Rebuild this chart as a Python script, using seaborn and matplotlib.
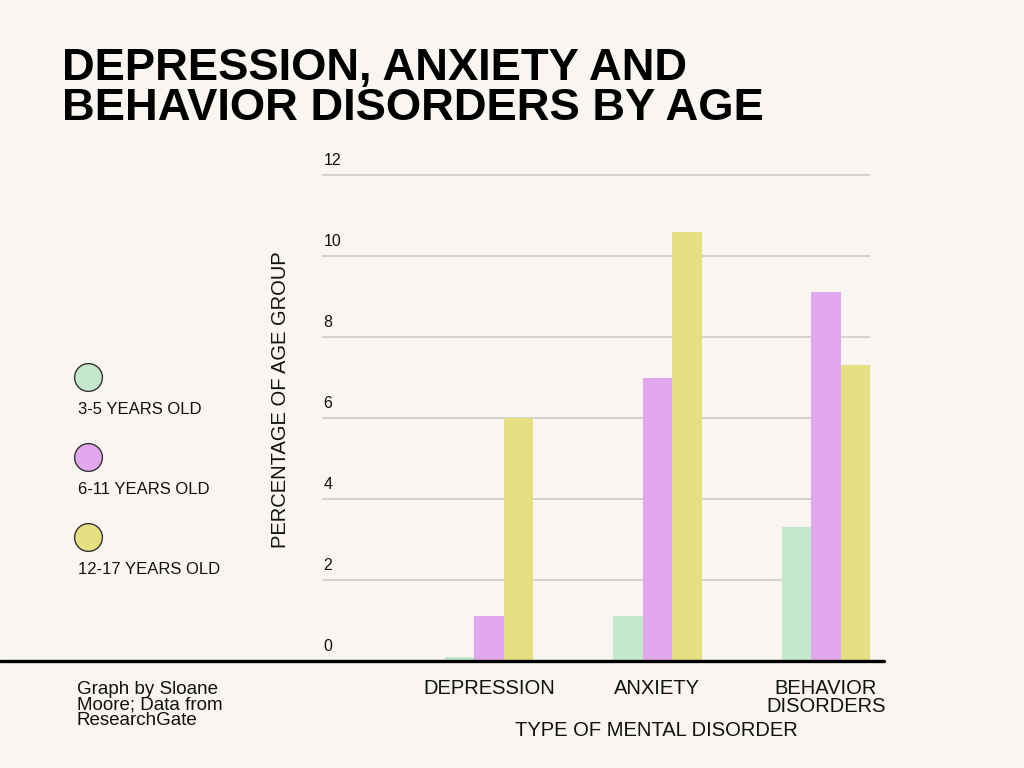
import pandas as pd
import numpy as np
import matplotlib
matplotlib.use('Agg')
import matplotlib.pyplot as plt
import seaborn as sns

# data (percent of age group)
disorders = ['DEPRESSION', 'ANXIETY', 'BEHAVIOR\nDISORDERS']
age_groups = ['3-5 YEARS OLD', '6-11 YEARS OLD', '12-17 YEARS OLD']
age_3_5 = [0.1, 1.1, 3.3]
age_6_11 = [1.1, 7.0, 9.1]
age_12_17 = [6.0, 10.6, 7.3]
y_ticks = [0, 2, 4, 6, 8, 10, 12]

colors = ['#C5E8CC', '#E2A8EE', '#E6DF82']
bg = '#F9F6F1'

data = pd.DataFrame({
    'Disorder': disorders * 3,
    'Age': [a for a in age_groups for _ in disorders],
    'Percent': age_3_5 + age_6_11 + age_12_17,
})

sns.set_theme(style='white')
plt.rcParams['font.family'] = ['Liberation Sans', 'DejaVu Sans']

fig = plt.figure(figsize=(10.24, 7.68), dpi=100, facecolor=bg)

# overlay in pixel coords for the free text and legend
lax = fig.add_axes([0, 0, 1, 1])
lax.set_xlim(0, 1024)
lax.set_ylim(768, 0)
lax.axis('off')
lax.patch.set_alpha(0)

# main plot area: x 322..870 px, y=0 at 661 px, 40.5 px per unit
top_val = 12.3
ax_h = top_val * 40.5
ax = fig.add_axes([322 / 1024, 1 - 661 / 768, 548 / 1024, ax_h / 768])
ax.set_facecolor(bg)

sns.barplot(data=data, x='Disorder', y='Percent', hue='Age', hue_order=age_groups,
            palette=colors, width=0.525, gap=0, saturation=1, legend=False,
            linewidth=0, ax=ax)

ax.set_xlim(-0.99, 2.262)
ax.set_ylim(0, top_val)
ax.set_yticks(y_ticks)
ax.set_yticklabels([])
ax.yaxis.grid(True, color='#CBC8C3', lw=1.1)
ax.set_axisbelow(True)
ax.tick_params(axis='both', length=0)
ax.tick_params(axis='x', labelsize=14.5, pad=13)
for lbl in ax.get_xticklabels():
    lbl.set_linespacing(0.95)
    lbl.set_color('#111111')
for s in ax.spines.values():
    s.set_visible(False)
ax.set_xlabel('')
ax.set_ylabel('')

# y tick labels sit above their gridlines, left aligned
for v in y_ticks:
    ax.annotate(str(v), xy=(0, v), xycoords=('axes fraction', 'data'),
                xytext=(1, 5), textcoords='offset points',
                ha='left', va='bottom', fontsize=11.5, color='#111111')

# thick black baseline running off to the left edge
ax.axhline(0, xmin=-322 / 548, xmax=(884 - 322) / 548, color='black', lw=2.4,
           clip_on=False, zorder=5)

# title
lax.text(62, 80, 'DEPRESSION, ANXIETY AND', fontsize=32.7, fontweight='bold',
         ha='left', va='baseline', color='black')
lax.text(62, 120, 'BEHAVIOR DISORDERS BY AGE', fontsize=32.7, fontweight='bold',
         ha='left', va='baseline', color='black')

# axis titles
lax.text(281, 400, 'PERCENTAGE OF AGE GROUP', rotation=90, fontsize=14.5,
         ha='center', va='center', color='#111111')
lax.text(656, 731, 'TYPE OF MENTAL DISORDER', fontsize=14.5,
         ha='center', va='center', color='#111111')

# legend: circle above each label
for i, (name, c) in enumerate(zip(age_groups, colors)):
    cy = 377 + i * 80
    lax.scatter([88], [cy], s=400, color=c, edgecolor='#333333', linewidth=1.0)
    lax.text(78, cy + 32, name, fontsize=12, ha='left', va='center', color='#111111')

# credit
lax.text(77, 705, 'Graph by Sloane\nMoore; Data from\nResearchGate', fontsize=13.5,
         ha='left', va='center', linespacing=0.88, color='#111111')

fig.savefig('out.png', dpi=100, facecolor=bg)
